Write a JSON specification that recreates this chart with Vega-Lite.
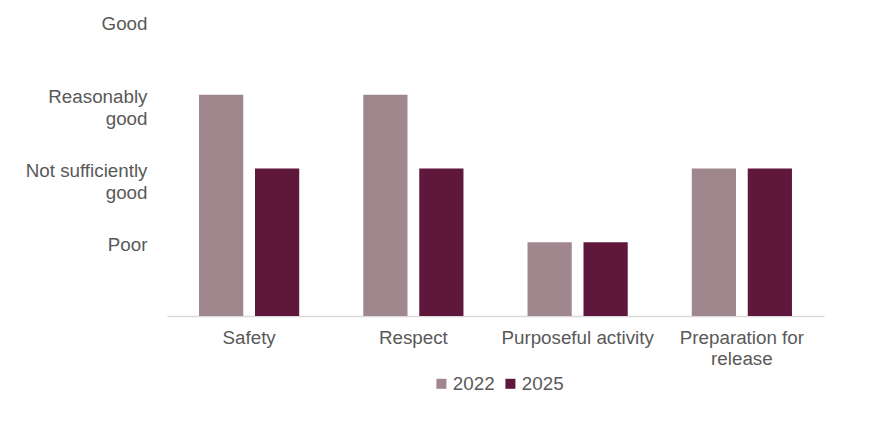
{
  "$schema": "https://vega.github.io/schema/vega-lite/v6.json",
  "width": 657,
  "height": 295,
  "autosize": "none",
  "padding": {"left": 167, "top": 21, "right": 52, "bottom": 109},
  "background": "white",
  "config": {
    "view": {"stroke": null},
    "font": "Liberation Sans",
    "axis": {"labelFont": "Liberation Sans", "labelFontSize": 18.8, "labelColor": "#595959", "title": null},
    "legend": {"labelFont": "Liberation Sans", "labelFontSize": 18.8, "labelColor": "#595959"}
  },
  "data": {
    "values": [
      {"area": "Safety", "year": "2022", "rating": 3},
      {"area": "Safety", "year": "2025", "rating": 2},
      {"area": "Respect", "year": "2022", "rating": 3},
      {"area": "Respect", "year": "2025", "rating": 2},
      {"area": "Purposeful activity", "year": "2022", "rating": 1},
      {"area": "Purposeful activity", "year": "2025", "rating": 1},
      {"area": "Preparation for release", "year": "2022", "rating": 2},
      {"area": "Preparation for release", "year": "2025", "rating": 2}
    ]
  },
  "mark": {"type": "bar"},
  "encoding": {
    "x": {
      "field": "area",
      "type": "nominal",
      "sort": null,
      "scale": {"paddingInner": 0.39, "paddingOuter": 0.195},
      "axis": {
        "labelAngle": 0,
        "ticks": false,
        "domainColor": "#d9d9d9",
        "domainWidth": 1.5,
        "labelPadding": 12,
        "labelLineHeight": 21,
        "labelBaseline": "top",
        "labelExpr": "datum.value == 'Preparation for release' ? ['Preparation for', 'release'] : datum.value"
      }
    },
    "xOffset": {"field": "year", "type": "nominal", "scale": {"paddingInner": 0.21}},
    "y": {
      "field": "rating",
      "type": "quantitative",
      "scale": {"domain": [0, 4]},
      "axis": {
        "values": [1, 2, 3, 4],
        "grid": false,
        "ticks": false,
        "domain": false,
        "labelPadding": 20,
        "labelOffset": 2,
        "labelLineHeight": 22,
        "labelExpr": "datum.value == 4 ? 'Good' : datum.value == 3 ? ['Reasonably', 'good'] : datum.value == 2 ? ['Not sufficiently', 'good'] : 'Poor'"
      }
    },
    "color": {
      "field": "year",
      "type": "nominal",
      "scale": {"domain": ["2022", "2025"], "range": ["#a0868d", "#5f173b"]},
      "legend": {
        "title": null,
        "orient": "none",
        "direction": "horizontal",
        "legendX": 265,
        "legendY": 353,
        "symbolType": "square",
        "symbolSize": 100,
        "symbolOpacity": 1,
        "labelOffset": 2,
        "columnPadding": 6
      }
    }
  }
}
